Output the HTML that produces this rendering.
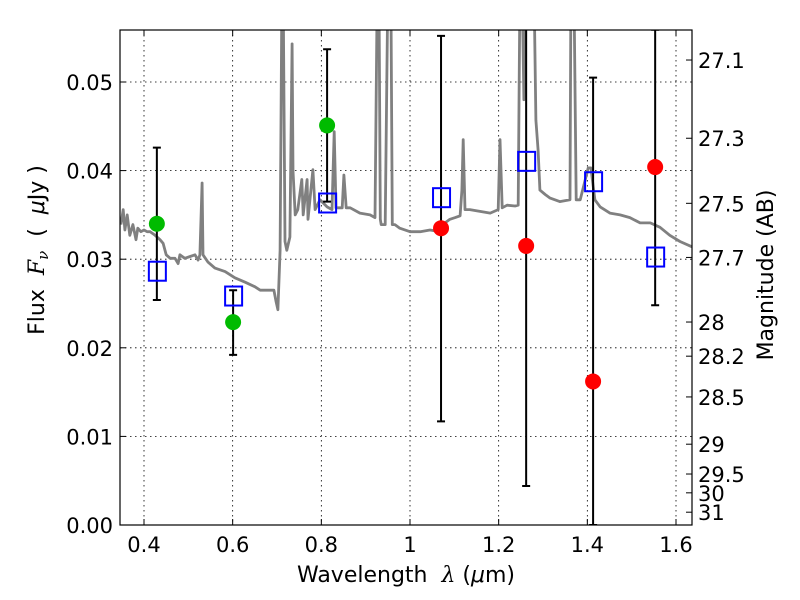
<!DOCTYPE html>
<html><head><meta charset="utf-8"><style>
html,body{margin:0;padding:0;background:#fff;}
svg{display:block;font-family:"DejaVu Sans","Liberation Sans",sans-serif;}
</style></head><body>
<svg id="chart" width="800" height="600" viewBox="0 0 800 600" xmlns="http://www.w3.org/2000/svg">
<defs><clipPath id="clip"><rect x="120" y="30" width="572" height="495"/></clipPath></defs>
<rect x="0" y="0" width="800" height="600" fill="#fff"/>
<g id="grid"></g>
<g id="spec" clip-path="url(#clip)"></g>
<g id="marks" clip-path="url(#clip)"></g>
<rect x="120" y="30" width="572" height="495" fill="none" stroke="#000" stroke-width="1.2"/>
<g id="axes"></g>
<text x="406" y="582" font-size="22" text-anchor="middle" xml:space="preserve">Wavelength  <tspan font-family="DejaVu Serif" font-style="italic">λ</tspan> (<tspan font-style="italic">μ</tspan>m)</text>
<text transform="translate(44,250) rotate(-90)" font-size="22" text-anchor="middle" xml:space="preserve">Flux  <tspan font-family="DejaVu Serif" font-style="italic">F</tspan><tspan font-family="DejaVu Serif" font-style="italic" font-size="15" dy="4">ν</tspan><tspan dy="-4">  (  <tspan font-style="italic">μ</tspan>Jy )</tspan></text>
<text transform="translate(773,275) rotate(-90)" font-size="22" text-anchor="middle">Magnitude (AB)</text>
</svg>
<script>
const xTicks=[0.4,0.6,0.8,1.0,1.2,1.4,1.6];
const xTickLabels=["0.4","0.6","0.8","1","1.2","1.4","1.6"];
const yTicks=[0,0.01,0.02,0.03,0.04,0.05];
const yTickLabels=["0.00","0.01","0.02","0.03","0.04","0.05"];
const magTicks=[27.1,27.3,27.5,27.7,28,28.2,28.5,29,29.5,30,31];
const magLabels=["27.1","27.3","27.5","27.7","28","28.2","28.5","29","29.5","30","31"];
const bandWave=[0.429,0.601,0.813,1.070,1.262,1.413,1.553];
const pointFlux=[0.0340,0.0229,0.0451,0.0335,0.0315,0.0162,0.0404];
const pointColor=["#00bb00","#00bb00","#00bb00","#ff0000","#ff0000","#ff0000","#ff0000"];
const modelFlux=[0.0287,0.0259,0.0364,0.0370,0.0411,0.0388,0.0303];
const errLow=[0.0254,0.0192,0.0365,0.0117,0.0044,0.0,0.0248];
const errHigh=[0.0426,0.0265,0.0537,0.0552,0.0600,0.0505,0.0559];
const specWave=[0.348,0.353,0.357,0.362,0.368,0.375,0.382,0.386,0.393,0.400,0.407,0.414,0.425,0.436,0.443,0.450,0.459,0.470,0.477,0.481,0.492,0.504,0.515,0.522,0.526,0.531,0.533,0.544,0.560,0.583,0.605,0.628,0.650,0.662,0.680,0.693,0.698,0.702,0.707,0.711,0.714,0.718,0.722,0.729,0.734,0.736,0.741,0.747,0.756,0.759,0.768,0.770,0.781,0.786,0.797,0.813,0.824,0.829,0.833,0.847,0.851,0.856,0.865,0.887,0.910,0.921,0.926,0.930,0.933,0.935,0.944,0.950,0.953,0.957,0.960,0.966,0.977,1.0,1.023,1.045,1.068,1.079,1.090,1.102,1.113,1.117,1.120,1.124,1.135,1.158,1.181,1.199,1.203,1.208,1.219,1.237,1.244,1.248,1.253,1.257,1.262,1.266,1.273,1.280,1.284,1.289,1.293,1.305,1.316,1.338,1.361,1.363,1.370,1.375,1.384,1.402,1.408,1.417,1.429,1.451,1.474,1.496,1.519,1.542,1.564,1.586,1.609,1.636];
const specFlux=[.0339,.0356,.0333,.0350,.0327,.0339,.0322,.0335,.0331,.0333,.0331,.0331,.0327,.0322,.0318,.0305,.0301,.0301,.0295,.0305,.0301,.0303,.0305,.0299,.0305,.0386,.0305,.0297,.0290,.0286,.0279,.0274,.0269,.0265,.0265,.0265,.0252,.0243,.0310,.06,.06,.0320,.0310,.0325,.0543,.0400,.0350,.0356,.0390,.0350,.0390,.0345,.0401,.0356,.0367,.0359,.0356,.0444,.0358,.0358,.0395,.0358,.0358,.0352,.0350,.0347,.06,.06,.0345,.0339,.0339,.06,.06,.06,.0339,.0339,.0335,.0331,.0331,.0333,.0331,.0341,.0345,.0347,.0349,.0378,.0435,.0356,.0356,.0354,.0352,.0356,.0435,.0358,.0361,.0360,.0361,.06,.06,.0480,.06,.06,.06,.06,.0457,.0423,.0378,.0373,.0369,.0365,.0367,.06,.06,.0367,.0367,.0403,.0403,.0367,.0359,.0352,.0350,.0347,.0341,.0341,.0336,.0327,.0320,.0314];

const NS="http://www.w3.org/2000/svg";
const X0=120,X1=692,Y0=525,Y1=30;
const xMin=0.4-24/443.3, xMax=1.6+16/443.3;
const yMin=0, yMax=(525-30)/8860;
function sx(v){return X0+(v-xMin)/(xMax-xMin)*(X1-X0);}
function sy(v){return Y0-(v-yMin)/(yMax-yMin)*(Y0-Y1);}
function magToFlux(m){return Math.pow(10,(23.9-m)/2.5);}
function mk(tag,attrs,parent){const e=document.createElementNS(NS,tag);for(const k in attrs)e.setAttribute(k,attrs[k]);parent.appendChild(e);return e;}
const grid=document.getElementById('grid'),axes=document.getElementById('axes'),spec=document.getElementById('spec'),marks=document.getElementById('marks');

xTicks.forEach((t,i)=>{
  const x=sx(t);
  const g=mk('line',{x1:x,x2:x,y1:Y1,y2:Y0,stroke:'#000','stroke-width':0.8,'stroke-dasharray':'1.5,3.5'},grid);
  
  
  const tk=mk('path',{d:`M${x},${Y0}v-6M${x},${Y1}v6`,stroke:'#000','stroke-width':1},axes);
  
  
  const tx=mk('text',{x:x,y:Y0+27,'font-size':21,'text-anchor':'middle'},axes);
  tx.textContent=xTickLabels[i];
  
  
});
yTicks.forEach((t,i)=>{
  const y=sy(t);
  if(t>0){const g=mk('line',{x1:X0,x2:X1,y1:y,y2:y,stroke:'#000','stroke-width':0.8,'stroke-dasharray':'1.5,3.5'},grid);
  
  }
  const tk=mk('path',{d:`M${X0},${y}h6`,stroke:'#000','stroke-width':1},axes);
  
  
  const tx=mk('text',{x:X0-7,y:y+8,'font-size':21,'text-anchor':'end'},axes);
  tx.textContent=yTickLabels[i];
  
  
});
magTicks.forEach((m,i)=>{
  const y=sy(magToFlux(m));
  const tk=mk('path',{d:`M${X1},${y}h-6`,stroke:'#000','stroke-width':1},axes);
  
  
  const tx=mk('text',{x:X1+6,y:y+8,'font-size':21},axes);
  tx.textContent=magLabels[i];
  
  
});

let d='';
specWave.forEach((w,i)=>{d+=(i?'L':'M')+sx(w).toFixed(1)+','+sy(specFlux[i]).toFixed(1);});
const sp=mk('path',{d:d,fill:'none',stroke:'#808080','stroke-width':2.8,'stroke-linejoin':'round'},spec);



bandWave.forEach((w,i)=>{
  const x=sx(w),yl=sy(errLow[i]),yh=sy(errHigh[i]);
  const eb=mk('path',{d:`M${x},${yl}V${yh}M${x-4},${yl}h8M${x-4},${yh}h8`,stroke:'#000','stroke-width':2,fill:'none'},marks);
  
  
  const sq=mk('rect',{x:x-8,y:sy(modelFlux[i])-9,width:17,height:19,fill:'none',stroke:'#0000ff','stroke-width':2},marks);
  
  
  const c=mk('circle',{cx:x,cy:sy(pointFlux[i]),r:8,fill:pointColor[i]},marks);
  
  
});
</script>
</body></html>
